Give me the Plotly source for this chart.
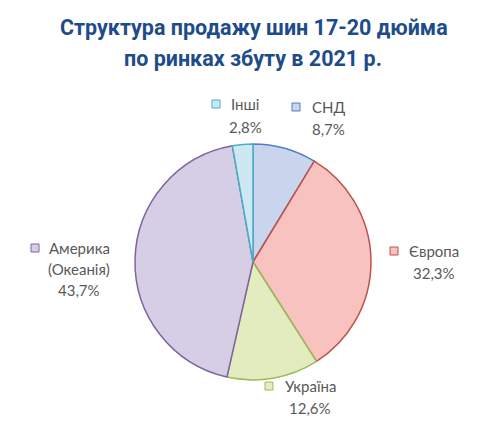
import plotly.graph_objects as go

labels = ["СНД", "Європа", "Україна", "Америка (Океанія)", "Інші"]
values = [8.7, 32.3, 12.6, 43.7, 2.8]
value_text = ["8,7%", "32,3%", "12,6%", "43,7%", "2,8%"]
label_lines = [["СНД"], ["Європа"], ["Україна"], ["Америка", "(Океанія)"], ["Інші"]]
fill_colors = ["#c9d5ed", "#f8c2be", "#e2ecbe", "#d6cee5", "#cde8f2"]
line_colors = ["#4f81bd", "#c0504d", "#9bbb59", "#8064a2", "#4bacc6"]

W, H = 490, 424

fig = go.Figure(go.Pie(
    labels=labels, values=values, sort=False, direction="clockwise", rotation=0,
    textinfo="none", hoverinfo="label+percent",
    marker=dict(colors=fill_colors, line=dict(color=line_colors, width=1.5)),
    domain=dict(x=[(253 - 118) / W, (253 + 118) / W], y=[1 - 380 / H, 1 - 144 / H]),
    showlegend=False,
))

# label layout: (center x of text block, y of first line, line gap, square x)
label_pos = [
    (328, 107, 22, 296),
    (434, 251, 22, 394),
    (310, 386, 22, 269),
    (79, 248, 21, 35),
    (245, 104, 23, 216),
]
font = dict(family="Lato, Carlito, sans-serif", size=15, color="#595959")
annotations = []
shapes = []
for i in range(len(labels)):
    cx, y0, gap, sx = label_pos[i]
    lines = label_lines[i] + [value_text[i]]
    for j, t in enumerate(lines):
        annotations.append(dict(text=t, x=cx / W, y=1 - (y0 + j * gap) / H, xref="paper", yref="paper",
                                xanchor="center", yanchor="middle", showarrow=False, font=font))
    s = 4
    shapes.append(dict(type="rect", xref="paper", yref="paper",
                       x0=(sx - s) / W, x1=(sx + s) / W, y0=1 - (y0 + s) / H, y1=1 - (y0 - s) / H,
                       fillcolor=fill_colors[i], line=dict(color=line_colors[i], width=1)))

title_font = dict(family="Roboto, sans-serif", size=21.5, color="#1e4c8a")
annotations.append(dict(text="<b>Структура продажу шин 17-20 дюйма</b>", x=254 / W, y=1 - 28 / H,
                        xref="paper", yref="paper", xanchor="center", yanchor="middle",
                        showarrow=False, font=title_font))
annotations.append(dict(text="<b>по ринках збуту в 2021 р.</b>", x=253 / W, y=1 - 58 / H,
                        xref="paper", yref="paper", xanchor="center", yanchor="middle",
                        showarrow=False, font=title_font))

fig.update_layout(width=W, height=H, margin=dict(l=0, r=0, t=0, b=0),
                  paper_bgcolor="white", plot_bgcolor="white",
                  annotations=annotations, shapes=shapes)
fig.write_html("out.html")
